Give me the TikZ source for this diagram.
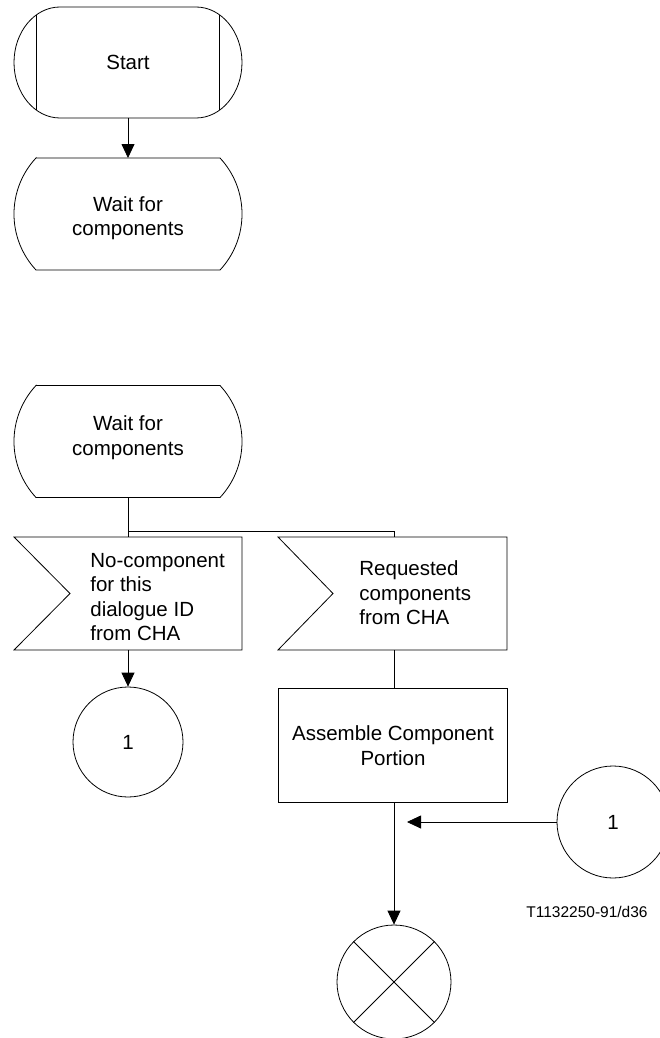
\documentclass[tikz,border=0pt]{standalone}
\usepackage{fontspec}
\setmainfont{Liberation Sans}
\usetikzlibrary{arrows.meta}
\begin{document}
\begin{tikzpicture}[x=1pt,y=1pt,
  every path/.style={line width=0.8pt},
  frame/.style={inner sep=0pt, outer sep=0pt, minimum width=228pt},
  txt/.style={inner sep=0pt, font=\fontsize{20.5}{24.5}\selectfont, align=center},
  conn/.style={circle, draw, inner sep=0pt, minimum size=110pt, font=\fontsize{20.5}{24.5}\selectfont},
  arr/.style={-{Triangle[length=14pt,width=13pt]}},
  ]
\useasboundingbox (0,0) rectangle (660,-1038);
\fill[white] (0,0) rectangle (660,-1038);

% Start (terminal)
\node[frame, minimum height=111pt] (start) at (128,-62.5) {};
\node[txt] (starttxt) at (start.center) {Start};
\draw ([xshift=46pt]start.north west) -- ([xshift=-46pt]start.north east)
  arc[start angle=90,end angle=-90,x radius=46pt,y radius=55.5pt]
  -- ([xshift=46pt]start.south west)
  arc[start angle=270,end angle=90,x radius=46pt,y radius=55.5pt] -- cycle;
\draw (36,-15) -- (36,-110);
\draw (219,-15) -- (219,-110);

% State 1
\node[frame, minimum height=112pt] (wait1) at (128,-214) {};
\node[txt] (wait1txt) at (128,-218) {Wait for\\components};
\draw ([xshift=22pt]wait1.north west) -- ([xshift=-22pt]wait1.north east)
  arc[start angle=42.9,end angle=-42.9,radius=82.3pt]
  -- ([xshift=22pt]wait1.south west)
  arc[start angle=222.9,end angle=137.1,radius=82.3pt] -- cycle;

\draw[arr] (start.south) -- (wait1.north);

% State 2
\node[frame, minimum height=112pt] (wait2) at (128,-441.5) {};
\node[txt] (wait2txt) at (128,-437.5) {Wait for\\components};
\draw ([xshift=22pt]wait2.north west) -- ([xshift=-22pt]wait2.north east)
  arc[start angle=42.9,end angle=-42.9,radius=82.3pt]
  -- ([xshift=22pt]wait2.south west)
  arc[start angle=222.9,end angle=137.1,radius=82.3pt] -- cycle;

% Inputs
\node[frame, minimum height=113pt] (in1) at (128,-593.5) {};
\draw (in1.north west) -- (in1.north east) -- (in1.south east) -- (in1.south west)
  -- ([xshift=56pt]in1.west) -- cycle;
\node[txt, align=left, anchor=west] (in1txt) at (90,-597) {No-component\\for this\\dialogue ID\\from CHA};

\node[frame, minimum width=229pt, minimum height=113pt] (in2) at (392.5,-593.5) {};
\draw (in2.north west) -- (in2.north east) -- (in2.south east) -- (in2.south west)
  -- ([xshift=55pt]in2.west) -- cycle;
\node[txt, align=left, anchor=west] (in2txt) at (359,-593) {Requested\\components\\from CHA};

% branch lines
\coordinate (br1) at (128,-531.5);
\coordinate (br2) at (394,-531.5);
\draw (wait2.south) -- (in1.north);
\draw (br1) -- (br2) -- (394,-537);

% Task
\node[frame, minimum width=229pt, minimum height=114pt, draw] (task) at (392.5,-745) {};
\node[txt] (tasktxt) at (393,-745.5) {Assemble Component\\Portion};
\draw (394,-650) -- (394,-688);

% Connectors
\node[conn] (c1) at (128,-742) {1};
\draw[arr] (in1.south) -- (c1.north);

\node[conn, minimum size=112pt] (c2) at (613,-822) {1};
\coordinate (join) at (407,-822);
\draw[arr] (c2.west) -- (join);

% Stop
\node[circle, draw, inner sep=0pt, minimum size=114pt] (stop) at (394,-982) {};
\draw (stop.north west) -- (stop.south east);
\draw (stop.north east) -- (stop.south west);
\draw[arr] (394,-802) -- (stop.north);

\node[inner sep=0pt, font=\fontsize{15.5}{18}\selectfont] (ref) at (587,-912) {T1132250-91/d36};
\end{tikzpicture}
\end{document}
